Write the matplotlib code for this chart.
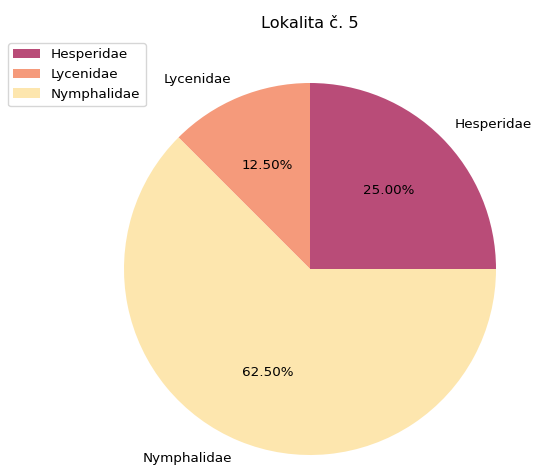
import matplotlib
matplotlib.use("Agg")
import matplotlib.pyplot as plt

# data
families = ["Hesperidae", "Lycenidae", "Nymphalidae"]
shares = [25.0, 12.5, 62.5]
colors = ["#b94c78", "#f59a7b", "#fde6ae"]
title = "Lokalita č. 5"

plt.rcParams["font.size"] = 9.7

fig = plt.figure(figsize=(5.33, 4.66), dpi=100)
W, H = 533, 466
# pie centre at (310, 269) px from top-left, radius ~186 px
r = 186
side = 2.5 * r
ax = fig.add_axes([(310 - side / 2) / W, (H - 269 - side / 2) / H, side / W, side / H])

ax.pie(shares, labels=families, colors=colors, autopct="%.2f%%")
ax.set_xlim(-1.25, 1.25)
ax.set_ylim(-1.25, 1.25)
ax.set_title(title)

fig.legend(families, loc="upper left", bbox_to_anchor=(8 / W, (H - 43) / H),
           borderaxespad=0)

fig.savefig("out.png", dpi=100)
